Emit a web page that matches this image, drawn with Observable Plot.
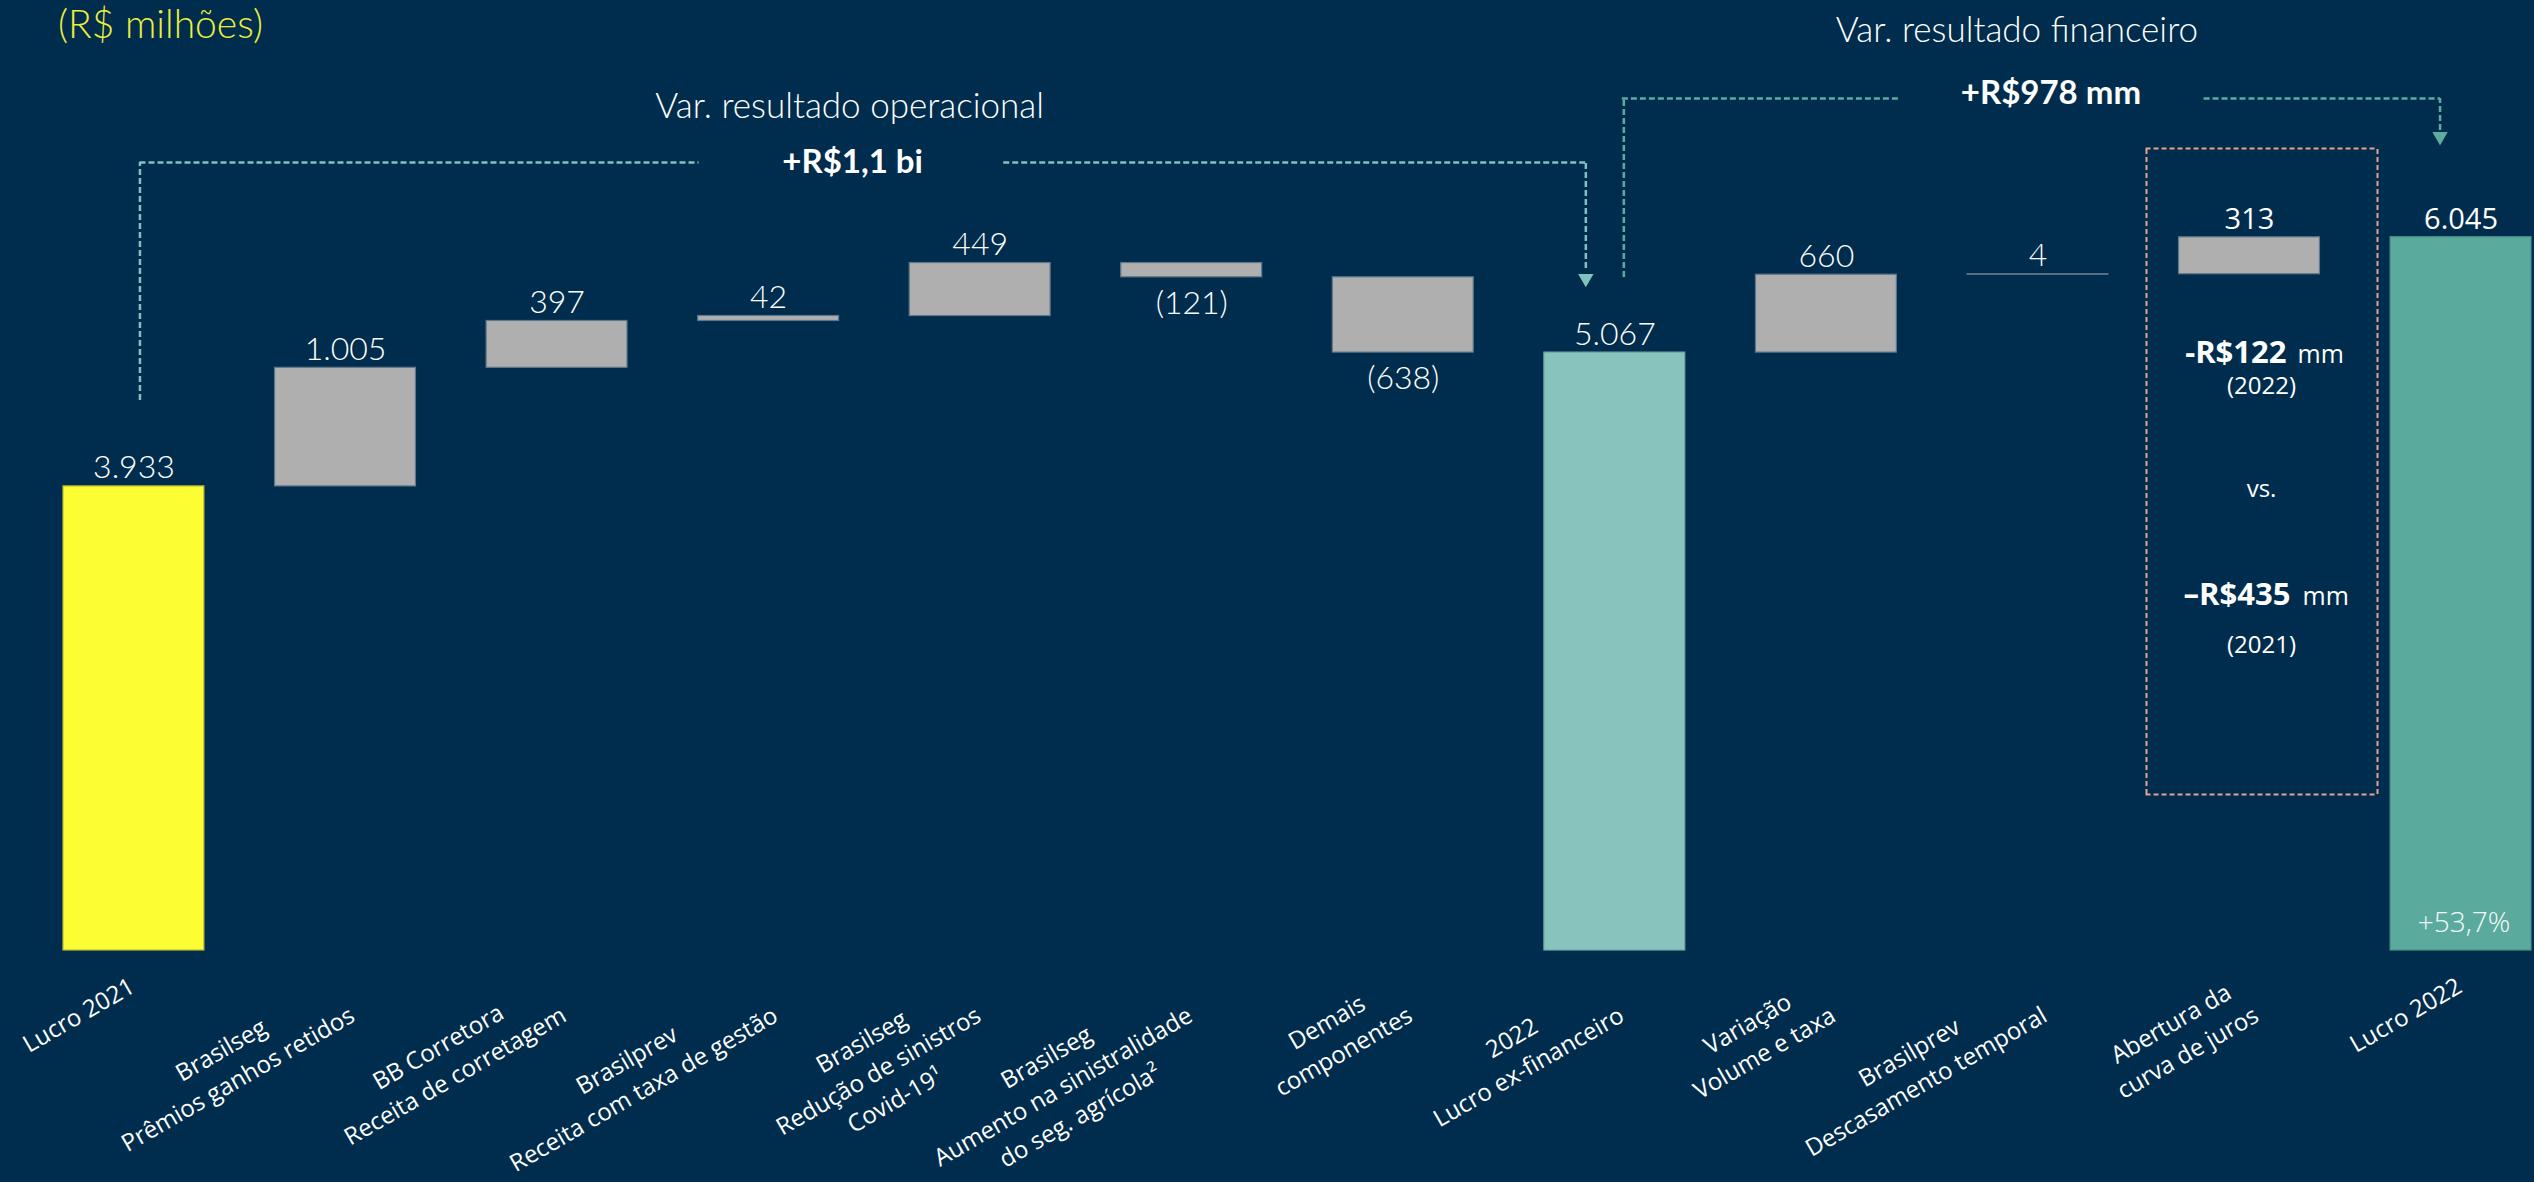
<!DOCTYPE html>
<html>
<head>
<meta charset="utf-8">
<script src="https://cdn.jsdelivr.net/npm/d3@7"></script>
<script src="https://cdn.jsdelivr.net/npm/@observablehq/plot@0.6"></script>
<style>
  html, body { margin: 0; padding: 0; background: #002d4d; }
  #wrap { position: relative; width: 2534px; height: 1182px; overflow: hidden; }
  #title { position: absolute; left: 58px; top: 1px; font: 300 39px Lato, "Open Sans", sans-serif; color: #eeee3a; line-height: 44px; }
  #chart { position: absolute; left: 0; top: 0; }
</style>
</head>
<body>
<div id="wrap">
  <div id="chart"></div>
  <div id="title">(R$ milhões)</div>
</div>
<script>
// ---------- data ----------
const categories = [
  "Lucro 2021",
  "Brasilseg\nPrêmios ganhos retidos",
  "BB Corretora\nReceita de corretagem",
  "Brasilprev\nReceita com taxa de gestão",
  "Brasilseg\nRedução de sinistros\nCovid-19¹",
  "Brasilseg\nAumento na sinistralidade\ndo seg. agrícola²",
  "Demais\ncomponentes",
  "2022\nLucro ex-financeiro",
  "Variação\nVolume e taxa",
  "Brasilprev\nDescasamento temporal",
  "Abertura da\ncurva de juros",
  "Lucro 2022"
];
const values = [3933, 1005, 397, 42, 449, -121, -638, 5067, 660, 4, 313, 6045];
const kinds = ["total", "delta", "delta", "delta", "delta", "delta", "delta", "total", "delta", "delta", "delta", "total"];

const opTitle = "Var. resultado operacional";
const opValue = "+R$1,1 bi";
const finTitle = "Var. resultado financeiro";
const finValue = "+R$978 mm";
const curve2022 = ["-R$122", "mm", "(2022)"];
const curveVs = "vs.";
const curve2021 = ["–R$435", "mm", "(2021)"];
const growth = "+53,7%";

// ---------- derived table ----------
const fmtInt = d3.formatLocale({decimal: ",", thousands: ".", grouping: [3], currency: ["R$", ""]}).format(",d");
const rows = [];
let running = 0;
categories.forEach((cat, i) => {
  const v = values[i];
  let y1, y2;
  if (kinds[i] === "total") { y1 = 0; y2 = v; running = v; }
  else { y1 = running; y2 = running + v; running = y2; }
  rows.push({
    cat, i, kind: kinds[i], value: v,
    lo: Math.min(y1, y2), hi: Math.max(y1, y2),
    label: v < 0 ? `(${fmtInt(-v)})` : fmtInt(v)
  });
});

// ---------- styles ----------
const WHITE = "#ffffff";
const GRAY = "#afafaf";
const fillFor = d => d.kind === "delta" ? GRAY : d.i === 0 ? "#fdfd33" : d.i === 7 ? "#89c3bd" : "#5baa9e";
const strokeFor = d => d.kind === "delta" ? "#5f778a" : d.i === 0 ? "#b9b93a" : d.i === 7 ? "#6fa7a3" : "#4a8f88";
const OP = "#80c3bd", FIN = "#5caca1", PINK = "#e8a092";
const light = {fontFamily: "Lato, 'Open Sans', sans-serif", fontWeight: 300, fill: WHITE};
const wide = {fontFamily: "'Open Sans', sans-serif", fill: WHITE};
const dash = {strokeWidth: 2.5, strokeDasharray: "6,3"};

// axis label measuring
const ctx = document.createElement("canvas").getContext("2d");
const axisFont = 24, axisLH = 1.4, axisAngle = 30;
ctx.font = `${axisFont}px "Open Sans"`;
const ang = axisAngle * Math.PI / 180;
const axisMarks = rows.map(d => {
  const lines = d.cat.split("\n");
  const hw = d3.max(lines, l => ctx.measureText(l).width) / 2;
  const blockH = lines.length * axisFont * axisLH;
  return Plot.text([d], {
    x: "cat", text: "cat", frameAnchor: "bottom", rotate: -axisAngle,
    textAnchor: "middle", lineAnchor: "top", lineHeight: axisLH,
    dx: -1 - blockH / 4 - hw * Math.cos(ang), dy: 20 + hw * Math.sin(ang),
    fontSize: axisFont, ...wide
  });
});

const cat = i => () => categories[i];

const chart = Plot.plot({
  width: 2534, height: 1182,
  marginLeft: 63, marginRight: 3, marginTop: 65, marginBottom: 232,
  x: {domain: categories, paddingInner: 0.334, paddingOuter: 0, round: false, axis: null},
  y: {domain: [0, 7500], axis: null},
  color: {type: "identity"},
  style: {background: "transparent", overflow: "visible"},
  marks: [
    // bars
    Plot.barY(rows, {x: "cat", y1: "lo", y2: "hi", fill: fillFor, stroke: strokeFor, strokeWidth: 1.2}),
    // value labels
    Plot.text(rows.filter(d => d.i < 10 && d.value >= 0), {x: "cat", y: "hi", text: "label", lineAnchor: "bottom", dy: -8, fontSize: 32, ...light}),
    Plot.text(rows.filter(d => d.value < 0), {x: "cat", y: "lo", text: "label", lineAnchor: "top", dy: 14, fontSize: 32, ...light}),
    Plot.text(rows.filter(d => d.i >= 10), {x: "cat", y: "hi", text: "label", lineAnchor: "bottom", dy: -8, fontSize: 29, ...wide}),
    // category labels
    ...axisMarks,

    // operational bracket
    Plot.ruleX([0], {x: cat(0), y1: 4661, y2: 6678, dx: 6, stroke: OP, ...dash}),
    Plot.ruleY([6678], {y: d => d, x1: cat(0), x2: cat(3), insetLeft: 76.5, insetRight: 140, stroke: OP, ...dash}),
    Plot.ruleY([6678], {y: d => d, x1: cat(4), x2: cat(7), insetLeft: 94, insetRight: 99, stroke: OP, ...dash}),
    Plot.ruleX([0], {x: cat(7), y1: 5780, y2: 6678, dx: -29, stroke: OP, ...dash}),
    Plot.dot([0], {x: cat(7), y: () => 5695, dx: -29, symbol: "triangle", r: 5.7, rotate: 180, fill: OP}),
    Plot.text([opTitle], {x: cat(3), y: 7059, text: d => d, dx: 81, lineAnchor: "bottom", fontSize: 35, ...light}),
    Plot.text([opValue], {x: cat(3), y: 6678, text: d => d, dx: 84, lineAnchor: "middle", fontSize: 33, fontWeight: 700, fontFamily: "Lato, 'Open Sans', sans-serif", fill: WHITE}),

    // financial bracket
    Plot.ruleX([0], {x: cat(7), y1: 5703, y2: 7220, dx: 9, stroke: FIN, ...dash}),
    Plot.ruleY([7220], {y: d => d, x1: cat(7), x2: cat(8), insetLeft: 78, insetRight: -3, stroke: FIN, ...dash}),
    Plot.ruleY([7220], {y: d => d, x1: cat(10), x2: cat(11), insetLeft: 25, insetRight: 91, stroke: FIN, ...dash}),
    Plot.ruleX([0], {x: cat(11), y1: 6949, y2: 7220, dx: -21, stroke: FIN, ...dash}),
    Plot.dot([0], {x: cat(11), y: () => 6898, dx: -21, symbol: "triangle", r: 5.7, rotate: 180, fill: FIN}),
    Plot.text([finTitle], {x: cat(9), y: 7703, text: d => d, dx: -21, lineAnchor: "bottom", fontSize: 35, ...light}),
    Plot.text([finValue], {x: cat(9), y: 7267, text: d => d, dx: 13, lineAnchor: "middle", fontSize: 33, fontWeight: 700, fontFamily: "Lato, 'Open Sans', sans-serif", fill: WHITE}),

    // yield-curve box
    Plot.ruleX([0], {x: cat(10), y1: 1322, y2: 6797, dx: -103, stroke: PINK, strokeWidth: 2, strokeDasharray: "5,3"}),
    Plot.ruleX([0], {x: cat(10), y1: 1322, y2: 6797, dx: 128, stroke: PINK, strokeWidth: 2, strokeDasharray: "5,3"}),
    Plot.ruleY([6797, 1322], {y: d => d, x1: cat(10), x2: cat(10), insetLeft: -33, insetRight: -57, stroke: PINK, strokeWidth: 2, strokeDasharray: "5,3"}),
    Plot.text([curve2022[0]], {x: cat(10), y: 4983, text: d => d, dx: 37, textAnchor: "end", lineAnchor: "bottom", fontSize: 31, fontWeight: 700, ...wide}),
    Plot.text([curve2022[1]], {x: cat(10), y: 4983, text: d => d, dx: 48, textAnchor: "start", lineAnchor: "bottom", fontSize: 25, ...wide}),
    Plot.text([curve2022[2]], {x: cat(10), y: 4720, text: d => d, dx: 12, lineAnchor: "bottom", fontSize: 24, ...wide}),
    Plot.text([curveVs], {x: cat(10), y: 3847, text: d => d, dx: 12, lineAnchor: "bottom", fontSize: 24, ...wide}),
    Plot.text([curve2021[0]], {x: cat(10), y: 2924, text: d => d, dx: 41, textAnchor: "end", lineAnchor: "bottom", fontSize: 31, fontWeight: 700, ...wide}),
    Plot.text([curve2021[1]], {x: cat(10), y: 2924, text: d => d, dx: 53, textAnchor: "start", lineAnchor: "bottom", fontSize: 25, ...wide}),
    Plot.text([curve2021[2]], {x: cat(10), y: 2525, text: d => d, dx: 12, lineAnchor: "bottom", fontSize: 24, ...wide}),

    // growth label inside final bar
    Plot.text([growth], {x: cat(11), y: 153, text: d => d, dx: 3, lineAnchor: "bottom", fontSize: 28, fontWeight: 300, fontFamily: "'Open Sans', sans-serif", fill: "#f4fbfa"})
  ]
});
document.getElementById("chart").appendChild(chart);
</script>
</body>
</html>
